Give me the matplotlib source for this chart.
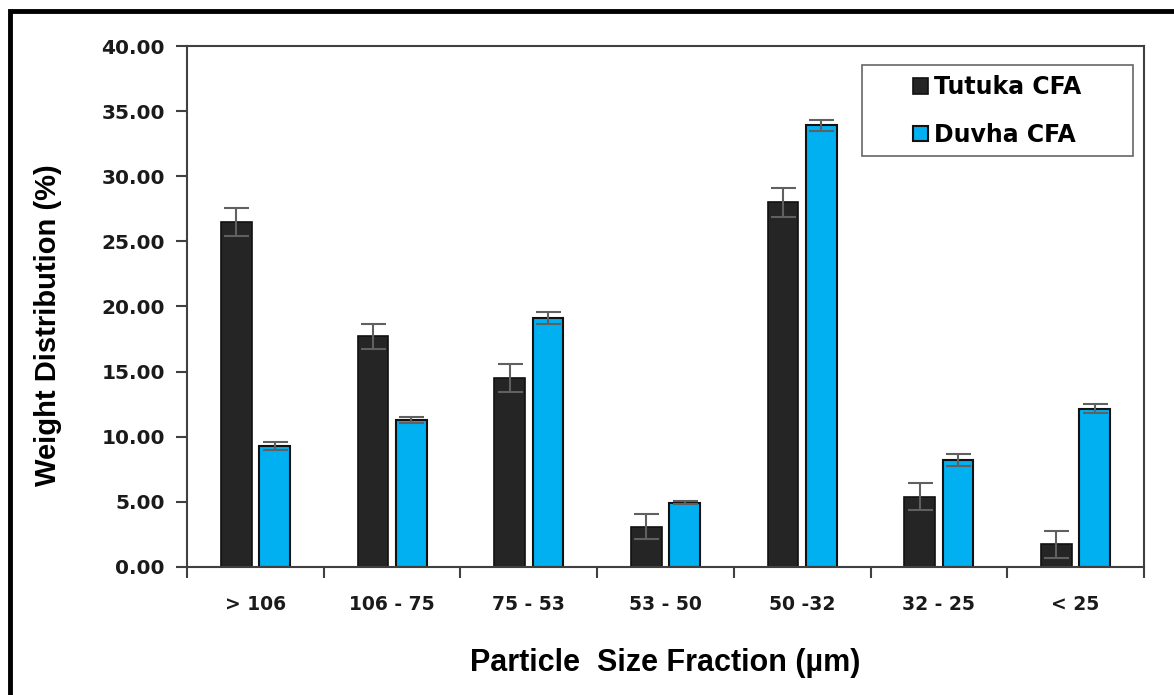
"""Weight distribution of particle size fractions for two CFA samples"""
import numpy as np
import matplotlib.pyplot as plt
from matplotlib.patches import Rectangle
from matplotlib.ticker import FixedLocator, FormatStrFormatter

fractions = ['> 106', '106 - 75', '75 - 53', '53 - 50', '50 -32', '32 - 25', '< 25']
tutuka = [26.5, 17.7, 14.5, 3.1, 28.0, 5.4, 1.75]
tutuka_err = [1.05, 0.95, 1.1, 0.95, 1.1, 1.05, 1.05]
duvha = [9.3, 11.3, 19.1, 4.95, 33.9, 8.2, 12.15]
duvha_err = [0.3, 0.25, 0.45, 0.15, 0.4, 0.45, 0.33]

fig = plt.figure(figsize=(11.74, 6.95), dpi=100)
ax = fig.add_axes([0.1593, 0.1842, 0.8151, 0.7496])

x = np.arange(len(fractions))
w = 0.225
off = 0.14
err_kw = dict(ecolor='#606060', elinewidth=1.5, capsize=9, capthick=1.5)
ax.bar(x - off, tutuka, w, yerr=tutuka_err, color='#252525', edgecolor='#111111',
       linewidth=1.2, label='Tutuka CFA', error_kw=err_kw)
ax.bar(x + off, duvha, w, yerr=duvha_err, color='#00B0F0', edgecolor='#111111',
       linewidth=1.5, label='Duvha CFA', error_kw=err_kw)

ax.set_xlim(-0.5, len(fractions) - 0.5)
ax.set_ylim(0, 40)
ax.set_yticks(np.arange(0, 41, 5))
ax.yaxis.set_major_formatter(FormatStrFormatter('%.2f'))
ax.set_xticks(x)
ax.set_xticklabels(fractions)
ax.xaxis.set_minor_locator(FixedLocator(np.arange(-0.5, len(fractions), 1.0)))
ax.tick_params(axis='x', which='major', length=0, pad=20)
ax.tick_params(axis='x', which='minor', length=8, width=1.5, color='#404040')
ax.tick_params(axis='y', length=8, width=1.5, color='#404040', pad=8)
for lab in ax.get_xticklabels():
    lab.set_fontsize(13.5)
    lab.set_fontweight('bold')
    lab.set_color('#1a1a1a')
for lab in ax.get_yticklabels():
    lab.set_fontsize(14.5)
    lab.set_fontweight('bold')
    lab.set_color('#1a1a1a')

for s in ax.spines.values():
    s.set_color('#404040')
    s.set_linewidth(1.5)

ax.set_ylabel('Weight Distribution (%)', fontsize=21, fontweight='bold',
              family='Liberation Sans')
ax.yaxis.set_label_coords(-0.131, 0.464)
ax.set_xlabel('Particle  Size Fraction (\u00b5m)', fontsize=22, fontweight='bold',
              family='Liberation Sans', labelpad=25)

# legend entries without frame, box drawn separately (wide side margins)
leg = ax.legend(loc='upper left', bbox_to_anchor=(0.7586, 0.944), frameon=False,
                handlelength=0.65, handleheight=0.65, handletextpad=0.25,
                borderpad=0, labelspacing=1.0, borderaxespad=0,
                prop={'size': 17, 'weight': 'bold'})
for h in leg.legend_handles:
    h.set_edgecolor('#111111')
ax.add_patch(Rectangle((0.7053, 0.7889), 0.2832, 0.1746, transform=ax.transAxes,
                       fill=False, edgecolor='#666666', linewidth=1.2, zorder=5))

# outer frame around the figure
fig.patches.append(Rectangle((10 / 1174, -0.1), 1.2, 1.1 - 11 / 695,
                             transform=fig.transFigure, fill=False,
                             edgecolor='black', linewidth=3.5))

plt.savefig('out.png', dpi=100)
